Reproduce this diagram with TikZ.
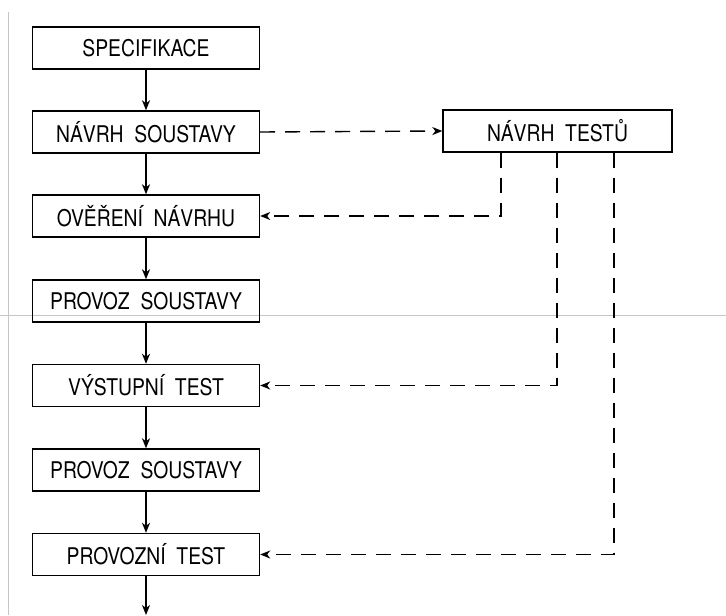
\documentclass[tikz,border=0pt]{standalone}
\usepackage{fontspec}
\setmainfont{TeX Gyre Heros}[FakeStretch=0.84]
\usetikzlibrary{arrows.meta}
\usetikzlibrary{positioning}

\tikzset{
  blok/.style={draw, line width=0.7pt, minimum width=113.5pt, minimum height=21pt,
    inner sep=0pt, font=\fontsize{11.5}{13}\selectfont},
  tok/.style={line width=0.7pt, arrows={-Stealth[length=5pt,width=4pt,inset=1.5pt]}},
  testtok/.style={tok, dash pattern=on 7.5pt off 5pt}
}

\begin{document}
\begin{tikzpicture}[x=0.5pt, y=-0.5pt]

\useasboundingbox (0,0) rectangle (726,615);

% scan edges
\draw[gray!45, line width=0.5pt] (8,12) -- (8,615);
\draw[gray!45, line width=0.5pt] (0,315) -- (726,315);

\def \xL {146}
\def \xR {557.5}

% left column
\node[blok] (spec)     at (\xL,48)  {SPECIFIKACE};
\node[blok] (navrhS)   at (\xL,132) {NÁVRH\ \ SOUSTAVY};
\node[blok] (overeni)  at (\xL,216) {OVĚŘENÍ\ \ NÁVRHU};
\node[blok] (provozA)  at (\xL,301) {PROVOZ\ \ SOUSTAVY};
\node[blok] (vystup)   at (\xL,385.5) {VÝSTUPNÍ\ \ TEST};
\node[blok] (provozB)  at (\xL,470) {PROVOZ\ \ SOUSTAVY};
\node[blok] (provozni) at (\xL,554.5) {PROVOZNÍ\ \ TEST};
\coordinate (konec) at (\xL,615);

% test design
\node[blok, minimum width=114.5pt] (navrhT) at (\xR,131) {NÁVRH\ \ TESTŮ};

% main flow
\draw[tok] (spec) -- (navrhS);
\draw[tok] (navrhS) -- (overeni);
\draw[tok] (overeni) -- (provozA);
\draw[tok] (provozA) -- (vystup);
\draw[tok] (vystup) -- (provozB);
\draw[tok] (provozB) -- (provozni);
\draw[tok] (provozni) -- (konec);

% dashed test links
\draw[testtok] (navrhS.east) -- (navrhT.west);
\draw[testtok] (navrhT.south -| 501,0) |- (overeni.east);
\draw[testtok] (navrhT.south -| 557,0) |- (vystup.east);
\draw[testtok] (navrhT.south -| 614,0) |- (provozni.east);

\end{tikzpicture}
\end{document}
